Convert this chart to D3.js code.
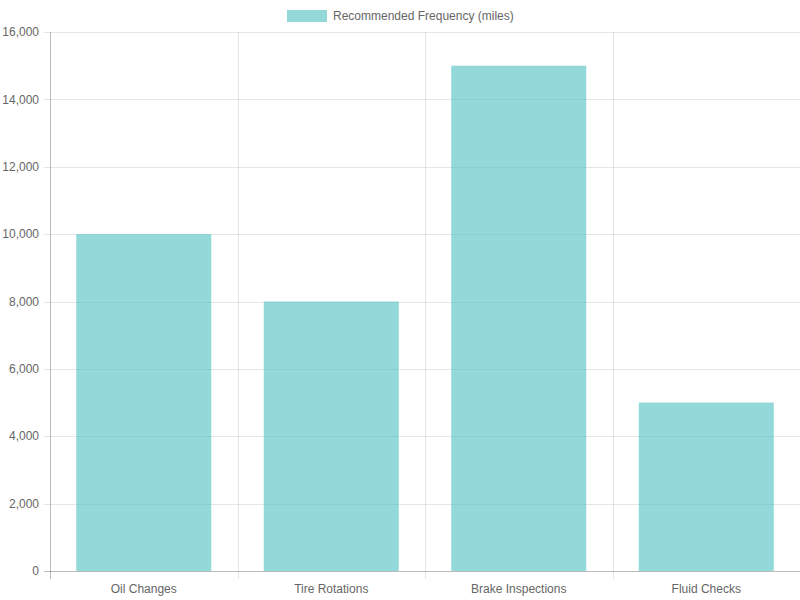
<!DOCTYPE html>
<html>
<head>
<meta charset="utf-8">
<script src="https://cdn.jsdelivr.net/npm/d3@7"></script>
<style>
  body { margin: 0; background: #fff; }
  text { font-family: "Liberation Sans", Arial, sans-serif; }
</style>
</head>
<body>
<div id="chart"></div>
<script>
// data
const categories = ["Oil Changes", "Tire Rotations", "Brake Inspections", "Fluid Checks"];
const values = [10000, 8000, 15000, 5000];
const seriesName = "Recommended Frequency (miles)";
const yTicks = [0, 2000, 4000, 6000, 8000, 10000, 12000, 14000, 16000];

const width = 800, height = 600;
const margin = {top: 32, right: 0, bottom: 29, left: 50};
const barColor = "rgba(75, 192, 192, 0.6)";
const gridColor = "rgba(0,0,0,0.1)";
const textColor = "#666";

const svg = d3.select("#chart").append("svg")
    .attr("width", width)
    .attr("height", height)

const x = d3.scaleBand()
    .domain(categories)
    .range([margin.left, width - margin.right])
    .paddingInner(0)

const y = d3.scaleLinear()
    .domain([0, 16000])
    .range([height - margin.bottom, margin.top])

const fmt = d3.format(",")

// horizontal grid
svg.append("g")
    .selectAll("line")
    .data(yTicks)
    .join("line")
        .attr("x1", margin.left - 6)
        .attr("x2", width - margin.right)
        .attr("y1", d => Math.round(y(d)) + 0.5)
        .attr("y2", d => Math.round(y(d)) + 0.5)
        .attr("stroke", gridColor)

// vertical grid at category boundaries
const bounds = categories.map(c => x(c)).concat([x.range()[1]])
svg.append("g")
    .selectAll("line")
    .data(bounds)
    .join("line")
        .attr("x1", d => Math.round(d) + 0.5)
        .attr("x2", d => Math.round(d) + 0.5)
        .attr("y1", margin.top)
        .attr("y2", height - margin.bottom + 8)
        .attr("stroke", gridColor)

// bars
const bw = x.bandwidth() * 0.72
svg.append("g")
    .selectAll("rect")
    .data(values)
    .join("rect")
        .attr("x", (d, i) => x(categories[i]) + (x.bandwidth() - bw) / 2)
        .attr("width", bw)
        .attr("y", d => y(d))
        .attr("height", d => y(0) - y(d))
        .attr("fill", barColor)

// axis lines
svg.append("line")
    .attr("x1", margin.left + 0.5).attr("x2", margin.left + 0.5)
    .attr("y1", margin.top).attr("y2", height - margin.bottom + 8)
    .attr("stroke", "rgba(0,0,0,0.18)")
svg.append("line")
    .attr("x1", margin.left - 6).attr("x2", width)
    .attr("y1", Math.round(y(0)) + 0.5).attr("y2", Math.round(y(0)) + 0.5)
    .attr("stroke", "rgba(0,0,0,0.18)")

// y tick labels
svg.append("g")
    .selectAll("text")
    .data(yTicks)
    .join("text")
        .attr("x", margin.left - 11)
        .attr("y", d => y(d))
        .attr("dy", "0.35em")
        .attr("text-anchor", "end")
        .attr("font-size", 12)
        .attr("fill", textColor)
        .text(d => fmt(d))

// x tick labels
svg.append("g")
    .selectAll("text")
    .data(categories)
    .join("text")
        .attr("x", d => x(d) + x.bandwidth() / 2)
        .attr("y", height - margin.bottom + 18)
        .attr("dy", "0.35em")
        .attr("text-anchor", "middle")
        .attr("font-size", 12)
        .attr("fill", textColor)
        .text(d => d)

// legend
const legend = svg.append("g")
legend.append("rect")
    .attr("x", 287).attr("y", 10)
    .attr("width", 40).attr("height", 12)
    .attr("fill", barColor)
legend.append("text")
    .attr("x", 333).attr("y", 16)
    .attr("dy", "0.35em")
    .attr("font-size", 12)
    .attr("fill", textColor)
    .text(seriesName)
</script>
</body>
</html>
